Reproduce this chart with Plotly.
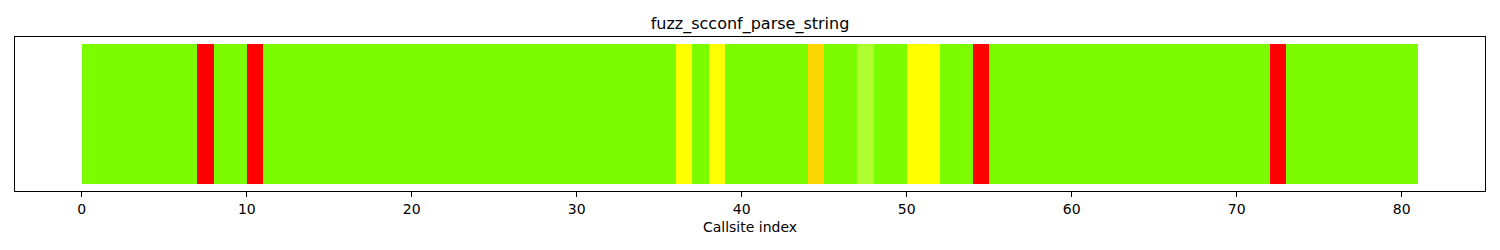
import plotly.graph_objects as go

G, R, Y, O, L = "#7CFC00", "#FF0000", "#FFFF00", "#FFD700", "#ADFF2F"

callsite_index = list(range(81))
bar_colors = [
    G, G, G, G, G, G, G, R, G, G,   # 0-9
    R, G, G, G, G, G, G, G, G, G,   # 10-19
    G, G, G, G, G, G, G, G, G, G,   # 20-29
    G, G, G, G, G, G, Y, G, Y, G,   # 30-39
    G, G, G, G, O, G, G, L, G, G,   # 40-49
    Y, Y, G, G, R, G, G, G, G, G,   # 50-59
    G, G, G, G, G, G, G, G, G, G,   # 60-69
    G, G, R, G, G, G, G, G, G, G,   # 70-79
    G,                              # 80
]
bar_heights = [1] * 81
tick_values = [0, 10, 20, 30, 40, 50, 60, 70, 80]

fig = go.Figure(
    go.Bar(
        x=[i + 0.5 for i in callsite_index],
        y=bar_heights,
        width=1,
        marker=dict(color=bar_colors, line=dict(width=0)),
        hoverinfo="x",
    )
)

font = "DejaVu Sans"
fig.update_layout(
    width=1500,
    height=250,
    margin=dict(l=15, r=15, t=37, b=59),
    paper_bgcolor="white",
    plot_bgcolor="white",
    showlegend=False,
    bargap=0,
    font=dict(family=font, size=14, color="black"),
    title=dict(
        text="fuzz_scconf_parse_string",
        x=0.5,
        xanchor="center",
        y=1 - 23 / 250,
        yanchor="middle",
        font=dict(family=font, size=16, color="black"),
    ),
    xaxis=dict(
        range=[-4.05, 85.05],
        tickmode="array",
        tickvals=tick_values,
        ticks="outside",
        ticklen=5,
        tickcolor="black",
        tickwidth=1,
        showgrid=False,
        zeroline=False,
        showline=True,
        linecolor="black",
        linewidth=1,
        mirror=True,
        tickfont=dict(family=font, size=14, color="black"),
        title=dict(text="Callsite index", font=dict(family=font, size=14, color="black"), standoff=6),
    ),
    yaxis=dict(
        range=[-0.05, 1.05],
        showticklabels=False,
        ticks="",
        showgrid=False,
        zeroline=False,
        showline=True,
        linecolor="black",
        linewidth=1,
        mirror=True,
    ),
)

fig.write_html("out.html")
